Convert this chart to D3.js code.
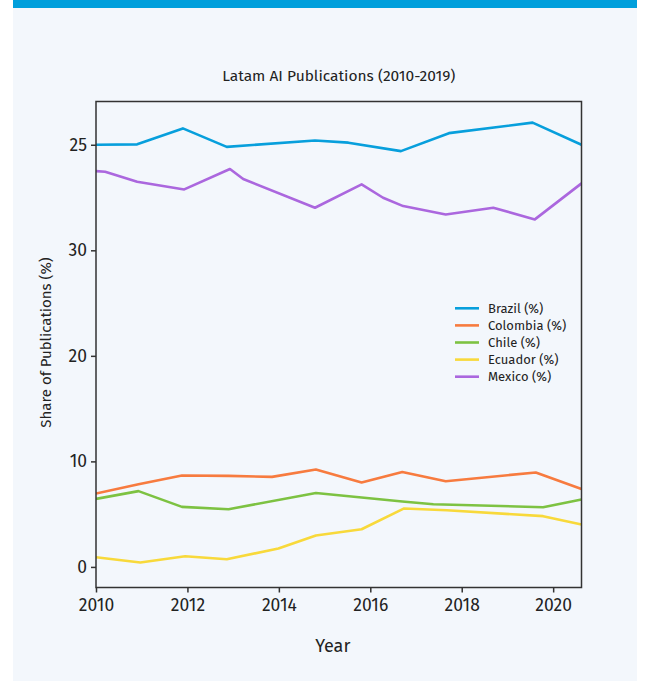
<!DOCTYPE html>
<html>
<head>
<meta charset="utf-8">
<script src="https://cdn.jsdelivr.net/npm/d3@7"></script>
<style>
  html, body { margin: 0; padding: 0; background: #ffffff; }
  svg { display: block; }
  text { font-family: "Fira Sans", "Noto Sans", "Open Sans", sans-serif; fill: #222; }
</style>
</head>
<body>
<svg id="chart" width="653" height="681"></svg>
<script>
// ---- data ----
const seriesNames = ["Brazil (%)", "Colombia (%)", "Chile (%)", "Ecuador (%)", "Mexico (%)"];
const seriesColors = ["#079fdc", "#f77b3f", "#7dc242", "#f8d93b", "#ab67de"];

const brazilYears = [2010.0, 2010.9, 2011.9, 2012.86, 2014.79, 2015.52, 2016.67, 2017.72, 2019.55, 2020.62];
const brazilValues = [40.0, 40.04, 41.55, 39.8, 40.4, 40.2, 39.4, 41.1, 42.1, 40.0];

const colombiaYears = [2010.0, 2010.93, 2011.88, 2012.9, 2013.85, 2014.81, 2015.81, 2016.7, 2017.65, 2019.62, 2020.62];
const colombiaValues = [6.96, 7.84, 8.66, 8.63, 8.53, 9.23, 8.0, 9.0, 8.12, 8.95, 7.39];

const chileYears = [2010.0, 2010.93, 2011.88, 2012.9, 2014.81, 2015.81, 2016.7, 2017.38, 2019.78, 2020.62];
const chileValues = [6.45, 7.18, 5.69, 5.47, 7.01, 6.58, 6.2, 5.94, 5.66, 6.39];

const ecuadorYears = [2010.0, 2010.97, 2011.95, 2012.86, 2013.99, 2014.81, 2015.81, 2016.74, 2017.67, 2019.78, 2020.62];
const ecuadorValues = [0.92, 0.42, 1.01, 0.73, 1.74, 2.98, 3.57, 5.54, 5.37, 4.81, 4.02];

const mexicoYears = [2010.0, 2010.2, 2010.9, 2011.93, 2012.93, 2013.22, 2014.79, 2015.81, 2016.28, 2016.72, 2017.65, 2018.69, 2019.6, 2020.62];
const mexicoValues = [37.5, 37.44, 36.5, 35.77, 37.7, 36.75, 34.03, 36.25, 34.98, 34.19, 33.4, 34.03, 32.93, 36.34];

const xTickValues = [2010, 2012, 2014, 2016, 2018, 2020];
const yTickValues = [0, 10, 20, 30, 40];
const yTickLabels = ["0", "10", "20", "30", "25"];

const titleText = "Latam AI Publications (2010-2019)";
const xLabel = "Year";
const yLabel = "Share of Publications (%)";

// ---- layout ----
const svg = d3.select("#chart");
const W = 653, H = 681;
const plot = { left: 96, right: 581.5, top: 101.5, bottom: 587.5 };

svg.append("rect").attr("x", 13).attr("y", 0).attr("width", 624).attr("height", H).attr("fill", "#f3f7fc");
svg.append("rect").attr("x", 13).attr("y", 0).attr("width", 624).attr("height", 8).attr("fill", "#009fdc");

const x = d3.scaleLinear().domain([2010, 2020.62]).range([plot.left, plot.right]);
const y = d3.scaleLinear().domain([-1.95, 44.1]).range([plot.bottom, plot.top]);

const series = [
  { name: seriesNames[0], color: seriesColors[0], xs: brazilYears, vs: brazilValues },
  { name: seriesNames[1], color: seriesColors[1], xs: colombiaYears, vs: colombiaValues },
  { name: seriesNames[2], color: seriesColors[2], xs: chileYears, vs: chileValues },
  { name: seriesNames[3], color: seriesColors[3], xs: ecuadorYears, vs: ecuadorValues },
  { name: seriesNames[4], color: seriesColors[4], xs: mexicoYears, vs: mexicoValues }
];

const g = svg.append("g");
g.append("defs").append("clipPath").attr("id", "clip")
  .append("rect").attr("x", plot.left).attr("y", plot.top)
  .attr("width", plot.right - plot.left).attr("height", plot.bottom - plot.top);

const line = d3.line().x(d => x(d[0])).y(d => y(d[1]));
series.forEach(s => {
  const pts = s.xs.map((xv, i) => [xv, s.vs[i]]);
  g.append("path").datum(pts)
    .attr("d", line)
    .attr("fill", "none")
    .attr("stroke", s.color)
    .attr("stroke-width", 2.6)
    .attr("stroke-linejoin", "round")
    .attr("clip-path", "url(#clip)");
});

// frame
g.append("rect").attr("x", plot.left).attr("y", plot.top)
  .attr("width", plot.right - plot.left).attr("height", plot.bottom - plot.top)
  .attr("fill", "none").attr("stroke", "#333").attr("stroke-width", 1.5);

// axes
const xAxis = d3.axisBottom(x).tickValues(xTickValues).tickFormat(d3.format("d")).tickSize(5).tickPadding(6);
const xg = g.append("g").attr("transform", `translate(0,${plot.bottom})`).call(xAxis);
xg.select(".domain").remove();
xg.selectAll(".tick line").attr("stroke", "#333").attr("stroke-width", 1.5);
xg.selectAll(".tick text").attr("font-size", 17.5).attr("fill", "#222")
  .style("font-family", '"Fira Sans", "Noto Sans", sans-serif');

const yAxis = d3.axisLeft(y).tickValues(yTickValues).tickFormat((d, i) => yTickLabels[i]).tickSize(5).tickPadding(4);
const yg = g.append("g").attr("transform", `translate(${plot.left},0)`).call(yAxis);
yg.select(".domain").remove();
yg.selectAll(".tick line").attr("stroke", "#333").attr("stroke-width", 1.5);
yg.selectAll(".tick text").attr("font-size", 17.5).attr("fill", "#222")
  .style("font-family", '"Fira Sans", "Noto Sans", sans-serif');

// titles
svg.append("text").attr("x", (plot.left + plot.right) / 2).attr("y", 81)
  .attr("text-anchor", "middle").attr("font-size", 15.5).text(titleText);
svg.append("text").attr("x", (plot.left + plot.right) / 2 - 6).attr("y", 652)
  .attr("text-anchor", "middle").attr("font-size", 18).text(xLabel);
svg.append("text").attr("transform", `translate(51,${(plot.top + plot.bottom) / 2 - 2}) rotate(-90)`)
  .attr("text-anchor", "middle").attr("font-size", 15).text(yLabel);

// legend
const lg = svg.append("g").attr("transform", "translate(455,308.3)");
series.forEach((s, i) => {
  const row = lg.append("g").attr("transform", `translate(0,${i * 17.1})`);
  row.append("line").attr("x1", 0).attr("x2", 24).attr("y1", 0).attr("y2", 0)
    .attr("stroke", s.color).attr("stroke-width", 2.6);
  row.append("text").attr("x", 33).attr("y", 0).attr("dy", "0.35em")
    .attr("font-size", 13).text(s.name);
});
</script>
</body>
</html>
